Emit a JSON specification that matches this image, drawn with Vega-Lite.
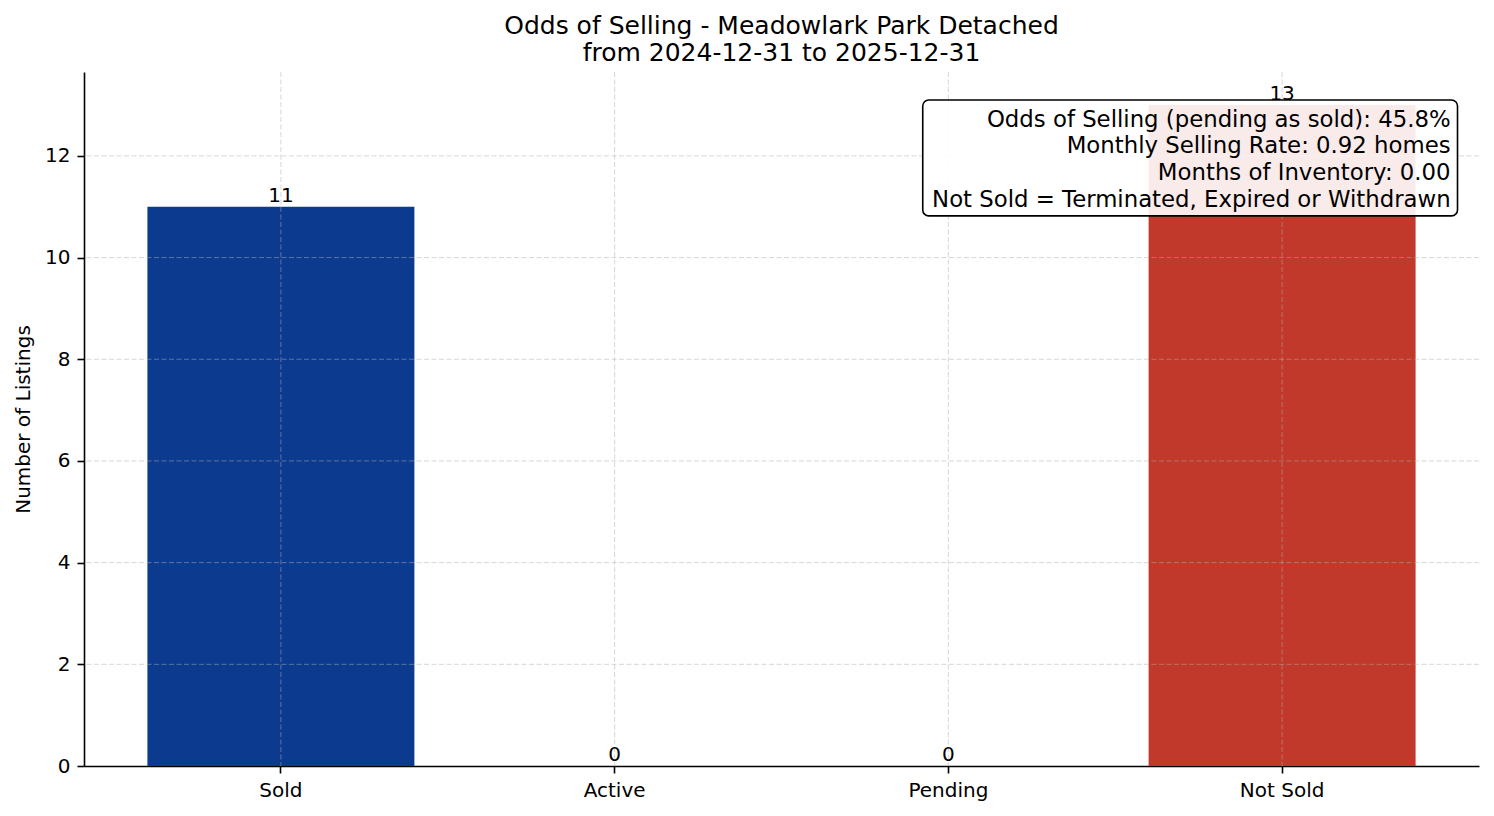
{
  "$schema": "https://vega.github.io/schema/vega-lite/v6.json",
  "width": 1395,
  "height": 694,
  "autosize": {"type": "none"},
  "padding": {"left": 84, "top": 72, "right": 15, "bottom": 50},
  "background": "white",
  "title": {
    "text": ["Odds of Selling - Meadowlark Park Detached", "from 2024-12-31 to 2025-12-31"],
    "fontSize": 25,
    "font": "DejaVu Sans",
    "fontWeight": "normal",
    "color": "black",
    "anchor": "middle",
    "frame": "group",
    "lineHeight": 27,
    "offset": 6
  },
  "config": {"view": {"stroke": null}, "font": "DejaVu Sans"},
  "data": {
    "values": [
      {"status": "Sold", "count": 11},
      {"status": "Active", "count": 0},
      {"status": "Pending", "count": 0},
      {"status": "Not Sold", "count": 13}
    ]
  },
  "layer": [
    {
      "mark": {"type": "bar"},
      "encoding": {
        "x": {
          "field": "status",
          "type": "nominal",
          "sort": ["Sold", "Active", "Pending", "Not Sold"],
          "scale": {"paddingInner": 0.2, "paddingOuter": 0.19},
          "axis": {
            "title": null,
            "labelAngle": 0,
            "labelFontSize": 20,
            "labelColor": "black",
            "labelFont": "DejaVu Sans",
            "labelPadding": 7,
            "tickSize": 7,
            "tickWidth": 1.6,
            "tickColor": "black",
            "domainColor": "black",
            "domainWidth": 1.6,
            "grid": false
          }
        },
        "y": {
          "field": "count",
          "type": "quantitative",
          "scale": {"domain": [0, 13.65], "nice": false},
          "axis": {
            "title": "Number of Listings",
            "titleFontSize": 20,
            "titleFontWeight": "normal",
            "titleColor": "black",
            "titleFont": "DejaVu Sans",
            "titlePadding": 11,
            "values": [0, 2, 4, 6, 8, 10, 12],
            "labelFontSize": 20,
            "labelColor": "black",
            "labelFont": "DejaVu Sans",
            "labelPadding": 7,
            "tickSize": 7,
            "tickWidth": 1.6,
            "tickColor": "black",
            "domainColor": "black",
            "domainWidth": 1.6,
            "grid": false
          }
        },
        "color": {
          "field": "status",
          "type": "nominal",
          "scale": {
            "domain": ["Sold", "Active", "Pending", "Not Sold"],
            "range": ["#0c3a8f", "#1f77b4", "#ff7f0e", "#c0392b"]
          },
          "legend": null
        }
      }
    },
    {
      "mark": {"type": "rule", "stroke": "#b0b0b0", "strokeOpacity": 0.5, "strokeDash": [5, 2.5], "strokeWidth": 1},
      "encoding": {
        "x": {"field": "status", "type": "nominal", "sort": ["Sold", "Active", "Pending", "Not Sold"]}
      }
    },
    {
      "data": {"values": [{"tick": 2}, {"tick": 4}, {"tick": 6}, {"tick": 8}, {"tick": 10}, {"tick": 12}]},
      "mark": {"type": "rule", "stroke": "#b0b0b0", "strokeOpacity": 0.5, "strokeDash": [5, 2.5], "strokeWidth": 1},
      "encoding": {
        "y": {"field": "tick", "type": "quantitative"}
      }
    },
    {
      "mark": {"type": "text", "baseline": "alphabetic", "dy": -5, "fontSize": 20, "color": "black"},
      "encoding": {
        "x": {"field": "status", "type": "nominal", "sort": ["Sold", "Active", "Pending", "Not Sold"]},
        "y": {"field": "count", "type": "quantitative"},
        "text": {"field": "count"}
      }
    },
    {
      "data": {"values": [{}]},
      "mark": {"type": "rect", "fill": "white", "fillOpacity": 0.9, "stroke": "black", "strokeWidth": 1.6, "cornerRadius": 6},
      "encoding": {
        "x": {"datum": "Pending", "type": "nominal", "bandPosition": 0.404},
        "x2": {"datum": "Not Sold", "bandPosition": 1.157},
        "y": {"datum": 13.1, "type": "quantitative"},
        "y2": {"datum": 10.82}
      }
    },
    {
      "data": {"values": [{}]},
      "mark": {
        "type": "text",
        "align": "right",
        "baseline": "middle",
        "fontSize": 22.8,
        "lineHeight": 26.7,
        "dx": 35,
        "color": "black",
        "text": ["Odds of Selling (pending as sold): 45.8%", "Monthly Selling Rate: 0.92 homes", "Months of Inventory: 0.00", "Not Sold = Terminated, Expired or Withdrawn"]
      },
      "encoding": {
        "x": {"datum": "Not Sold", "type": "nominal", "bandPosition": 1},
        "y": {"datum": 12.71, "type": "quantitative"}
      }
    }
  ]
}
